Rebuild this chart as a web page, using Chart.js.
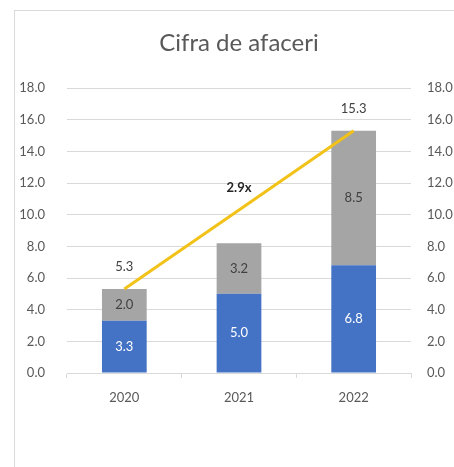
<!DOCTYPE html>
<html>
<head>
<meta charset="utf-8">
<script src="https://cdn.jsdelivr.net/npm/chart.js@4.4.1/dist/chart.umd.min.js"></script>
<style>
  body { margin: 0; background: #fff; overflow: hidden; }
  #frame { position: absolute; left: 14px; top: 10px; width: 600px; height: 600px;
           border-left: 1px solid #d9d9d9; border-top: 1px solid #d9d9d9; }
  #myChart { position: absolute; left: 15px; top: 11px; }
</style>
</head>
<body>
<div id="frame"></div>
<canvas id="myChart" width="448" height="460"></canvas>
<script>
const years = ["2020", "2021", "2022"];
const blueValues = [3.3, 5.0, 6.8];
const greyValues = [2.0, 3.2, 8.5];
const lineValues = [5.3, 10.3, 15.3];
const lineLabels = ["5.3", "2.9x", "15.3"];
const yMin = 0, yMax = 18, yStep = 2;

const textColor = "#595959";
const gridColor = "#d9d9d9";

// draws the value labels, Excel style
const valueLabels = {
    id: "valueLabels",
    afterDatasetsDraw(chart) {
        const ctx = chart.ctx;
        ctx.save();
        ctx.textAlign = "center";
        ctx.textBaseline = "middle";
        chart.data.datasets.forEach(function (ds, i) {
            const meta = chart.getDatasetMeta(i);
            meta.data.forEach(function (el, j) {
                if (ds.type === "line") {
                    ctx.font = (j === 1 ? "bold " : "") + "13px Lato";
                    ctx.fillStyle = j === 1 ? "#262626" : "#404040";
                    ctx.fillText(lineLabels[j], el.x, el.y - 22);
                } else {
                    ctx.font = "13px Lato";
                    ctx.fillStyle = ds.labelColor;
                    ctx.fillText(ds.data[j].toFixed(1), el.x, (el.y + el.base) / 2);
                }
            });
        });
        ctx.restore();
    }
};

new Chart("myChart", {
    data: {
        labels: years,
        datasets: [
            {
                type: "line",
                data: lineValues,
                yAxisID: "y1",
                borderColor: "#f2c218",
                borderWidth: 3,
                pointRadius: 0,
                tension: 0,
                order: 0
            },
            {
                type: "bar",
                data: blueValues,
                backgroundColor: "#4472c4",
                labelColor: "#ffffff",
                barPercentage: 0.39,
                categoryPercentage: 1,
                order: 1
            },
            {
                type: "bar",
                data: greyValues,
                backgroundColor: "#a5a5a5",
                labelColor: "#404040",
                barPercentage: 0.39,
                categoryPercentage: 1,
                order: 1
            }
        ]
    },
    options: {
        responsive: false,
        animation: false,
        layout: { padding: 0 },
        plugins: {
            legend: { display: false },
            tooltip: { enabled: false },
            title: {
                display: true,
                text: "Cifra de afaceri",
                color: textColor,
                font: { family: "Lato", size: 24, weight: "normal", lineHeight: 1.2 },
                padding: { top: 17.6, bottom: 30.6 }
            }
        },
        scales: {
            x: {
                stacked: true,
                grid: { drawOnChartArea: false, drawTicks: true, tickLength: 5, color: gridColor },
                border: { display: true, color: gridColor },
                ticks: { color: textColor, font: { family: "Lato", size: 13 }, padding: 12 },
                afterFit: function (s) { s.height = 98; }
            },
            y: {
                stacked: true,
                position: "left",
                min: yMin, max: yMax,
                grid: { color: gridColor, drawTicks: false },
                border: { display: false },
                ticks: {
                    stepSize: yStep, padding: 22, color: textColor,
                    font: { family: "Lato", size: 13 },
                    callback: function (v) { return v.toFixed(1); }
                },
                afterFit: function (s) { s.width = 52; }
            },
            y1: {
                position: "right",
                min: yMin, max: yMax,
                grid: { display: false, drawTicks: false },
                border: { display: false },
                ticks: {
                    stepSize: yStep, padding: 16, color: textColor,
                    font: { family: "Lato", size: 13 },
                    callback: function (v) { return v.toFixed(1); }
                },
                afterFit: function (s) { s.width = 52; }
            }
        }
    },
    plugins: [valueLabels]
});
</script>
</body>
</html>
